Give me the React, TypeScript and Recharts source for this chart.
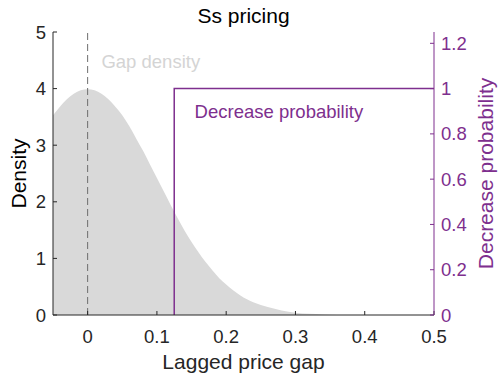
import React from 'react';
import { ComposedChart, Area, Line, XAxis, YAxis, ReferenceLine, ReferenceDot, Label } from 'recharts';

const FONT = '"Liberation Sans", Arial, Helvetica, sans-serif';
const PURPLE = '#7E2F8E';
const AXIS = '#262626';
const GRAY_FILL = '#d9d9d9';

// Gap density
const gapX = [-0.05, -0.04, -0.03, -0.02, -0.01, 0, 0.01, 0.02, 0.03, 0.04, 0.05, 0.06, 0.07, 0.08, 0.09, 0.1, 0.11, 0.12, 0.13, 0.14, 0.15, 0.16, 0.17, 0.18, 0.19, 0.2, 0.22, 0.24, 0.26, 0.28, 0.3, 0.32, 0.34, 0.36];
const gapDensity = [3.53, 3.68, 3.81, 3.91, 3.97, 3.99, 3.97, 3.91, 3.81, 3.68, 3.53, 3.34, 3.12, 2.9, 2.66, 2.42, 2.18, 1.94, 1.71, 1.49, 1.29, 1.11, 0.94, 0.79, 0.65, 0.54, 0.35, 0.22, 0.14, 0.08, 0.04, 0.02, 0.01, 0];

// Decrease probability (step)
const probX = [0.125, 0.125, 0.5];
const probY = [0, 1, 1];

const xTicks = [0, 0.1, 0.2, 0.3, 0.4, 0.5];
const leftTicks = [0, 1, 2, 3, 4, 5];
const rightTicks = [0, 0.2, 0.4, 0.6, 0.8, 1, 1.2];

const densityData = gapX.map((x, i) => ({ x, d: gapDensity[i] }));
const probData = probX.map((x, i) => ({ x, p: probY[i] }));

const TICK_FS = 18.5;
const LABEL_FS = 21;

export default function App() {
  return (
    <div style={{ position: 'absolute', left: 0, top: 0, width: 499, height: 373, background: '#fff', fontFamily: FONT }}>
      <div
        style={{
          position: 'absolute',
          left: 53,
          top: 5,
          width: 381,
          textAlign: 'center',
          fontSize: LABEL_FS,
          lineHeight: `${LABEL_FS}px`,
          fontFamily: FONT,
          color: '#000',
          whiteSpace: 'nowrap',
        }}
      >
        Ss pricing
      </div>
      <ComposedChart width={499} height={373} margin={{ top: 32, right: 0, bottom: 0, left: 0 }}>
        <XAxis
          dataKey="x"
          type="number"
          domain={[-0.05, 0.5]}
          ticks={xTicks}
          allowDataOverflow
          interval={0}
          orientation="bottom"
          height={58}
          stroke={AXIS}
          tickSize={-4}
          tickMargin={19}
          tick={{ fill: AXIS, fontSize: TICK_FS, fontFamily: FONT }}
        >
          <Label value="Lagged price gap" position="insideBottom" offset={4} fill={AXIS} fontSize={LABEL_FS} fontFamily={FONT} />
        </XAxis>
        <XAxis
          xAxisId="top"
          dataKey="x"
          type="number"
          domain={[-0.05, 0.5]}
          ticks={xTicks}
          allowDataOverflow
          interval={0}
          orientation="top"
          height={0}
          stroke={AXIS}
          tickSize={-4}
          tickFormatter={() => ''}
        />
        <YAxis
          yAxisId="left"
          orientation="left"
          type="number"
          domain={[0, 5]}
          ticks={leftTicks}
          allowDataOverflow
          interval={0}
          width={53}
          stroke={AXIS}
          tickSize={-4}
          tickMargin={11}
          tick={{ fill: AXIS, fontSize: TICK_FS, fontFamily: FONT }}
        >
          <Label
            content={(p: any) => {
              const vb = p.viewBox || { x: 0, y: 32, width: 53, height: 283 };
              const cx = vb.x + 18.5;
              const cy = vb.y + vb.height / 2;
              return (
                <text x={cx} y={cy} transform={`rotate(-90, ${cx}, ${cy})`} textAnchor="middle" dominantBaseline="central" fill="#000" fontSize={LABEL_FS} fontFamily={FONT}>
                  Density
                </text>
              );
            }}
          />
        </YAxis>
        <YAxis
          yAxisId="right"
          orientation="right"
          type="number"
          domain={[0, 1.25]}
          ticks={rightTicks}
          allowDataOverflow
          interval={0}
          width={65}
          stroke={PURPLE}
          tickSize={-4}
          tickMargin={11}
          tick={{ fill: PURPLE, fontSize: TICK_FS, fontFamily: FONT }}
        >
          <Label
            content={(p: any) => {
              const vb = p.viewBox || { x: 434, y: 32, width: 65, height: 283 };
              const cx = vb.x + 51.5;
              const cy = vb.y + vb.height / 2;
              return (
                <text x={cx} y={cy} transform={`rotate(-90, ${cx}, ${cy})`} textAnchor="middle" dominantBaseline="central" fill={PURPLE} fontSize={LABEL_FS} fontFamily={FONT}>
                  Decrease probability
                </text>
              );
            }}
          />
        </YAxis>
        <Area
          data={densityData}
          yAxisId="left"
          dataKey="d"
          type="monotone"
          stroke="none"
          fill={GRAY_FILL}
          fillOpacity={1}
          isAnimationActive={false}
          dot={false}
          activeDot={false}
        />
        <ReferenceLine yAxisId="left" x={0} stroke="#6e6e6e" strokeWidth={1} strokeDasharray="7 4" />
        <Line
          data={probData}
          yAxisId="right"
          dataKey="p"
          type="linear"
          stroke={PURPLE}
          strokeWidth={1.5}
          dot={false}
          activeDot={false}
          isAnimationActive={false}
        />
        <ReferenceDot
          yAxisId="left"
          x={0.0199}
          y={4.48}
          r={0}
          fill="none"
          stroke="none"
          label={{ value: 'Gap density', position: 'right', offset: 0, fill: '#d4d4d4', fontSize: TICK_FS, fontFamily: FONT }}
        />
        <ReferenceDot
          yAxisId="right"
          x={0.1544}
          y={0.899}
          r={0}
          fill="none"
          stroke="none"
          label={{ value: 'Decrease probability', position: 'right', offset: 0, fill: PURPLE, fontSize: TICK_FS, fontFamily: FONT }}
        />
      </ComposedChart>
    </div>
  );
}
